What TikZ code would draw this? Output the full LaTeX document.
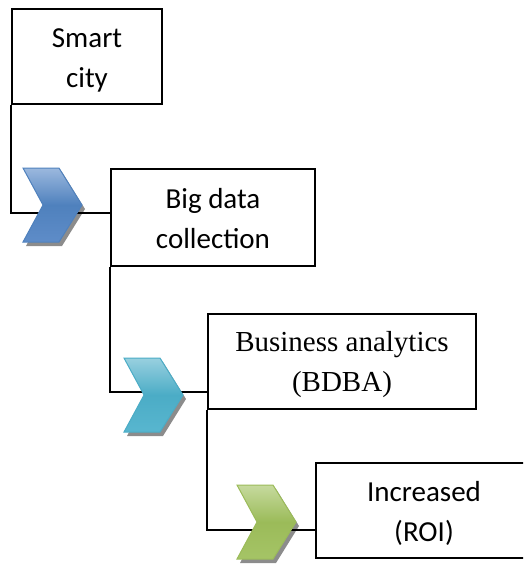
\documentclass[tikz,border=0pt]{standalone}
\usepackage{fontspec}
\usetikzlibrary{calc}
\setmainfont{Carlito}
\newfontfamily\timesfont{Liberation Serif}
\definecolor{bluemid}{HTML}{4F81BD}
\definecolor{bluetop}{HTML}{9BB8DE}
\definecolor{bluebot}{HTML}{5E8CC8}
\definecolor{tealmid}{HTML}{4BACC6}
\definecolor{tealtop}{HTML}{98D0DF}
\definecolor{tealbot}{HTML}{58B6CF}
\definecolor{greenmid}{HTML}{9BBB59}
\definecolor{greentop}{HTML}{C6DA9E}
\definecolor{greenbot}{HTML}{A5C466}
\newcommand{\topstrut}{\rule{0pt}{27pt}}
\newcommand{\botstrut}{\rule[-6pt]{0pt}{6pt}}
\begin{document}
\begin{tikzpicture}[x=1pt,y=-1pt,
  boxnode/.style={draw=black, line width=2pt, rectangle, inner sep=0pt,
    align=center, font=\fontsize{29}{40}\selectfont},
  conn/.style={draw=black, line width=2pt},
  chevshadow/.style={fill=black, opacity=0.45},
]
\clip (0,0) rectangle (523,565);
% boxes
\node[boxnode, minimum width=150pt, minimum height=95pt] (b1) at (87,56.5)
  {\topstrut Smart\\city\botstrut};
\node[boxnode, minimum width=204pt, minimum height=97pt] (b2) at (213,217.5)
  {\topstrut Big data\\collection\botstrut};
\node[boxnode, minimum width=268pt, minimum height=95pt,
  font=\timesfont\fontsize{29}{40}\selectfont] (b3) at (342,361.5)
  {\topstrut Business analytics\\(BDBA)\botstrut};
\node[boxnode, minimum width=216pt, minimum height=95pt] (b4) at (424,510.5)
  {\topstrut Increased\\(ROI)\botstrut};
% connectors
\coordinate (j1) at (111,213);
\coordinate (j2) at (208,392);
\coordinate (j3) at (316,530);
\draw[conn] (b1.south west) |- (j1) -- (b2.west |- j1);
\draw[conn] (b2.south west) |- (j2) -- (b3.west |- j2);
\draw[conn] (b3.south west) |- (j3) -- (b4.west |- j3);
% chevrons
\foreach \x/\y/\c in {23/168/blue, 124/358/teal, 237/485/green}{
  \fill[chevshadow] ($(\x,\y)+(3,4)$) -- ++(36,0) -- ++(23,37) -- ++(-23,37)
    -- ++(-36,0) -- ++(20,-37) -- cycle;
  \path[draw=\c mid, line width=1pt, top color=\c top, bottom color=\c bot,
    middle color=\c mid]
    (\x,\y) -- ++(36,0) -- ++(23,37) -- ++(-23,37)
    -- ++(-36,0) -- ++(20,-37) -- cycle;
}
\end{tikzpicture}
\end{document}
